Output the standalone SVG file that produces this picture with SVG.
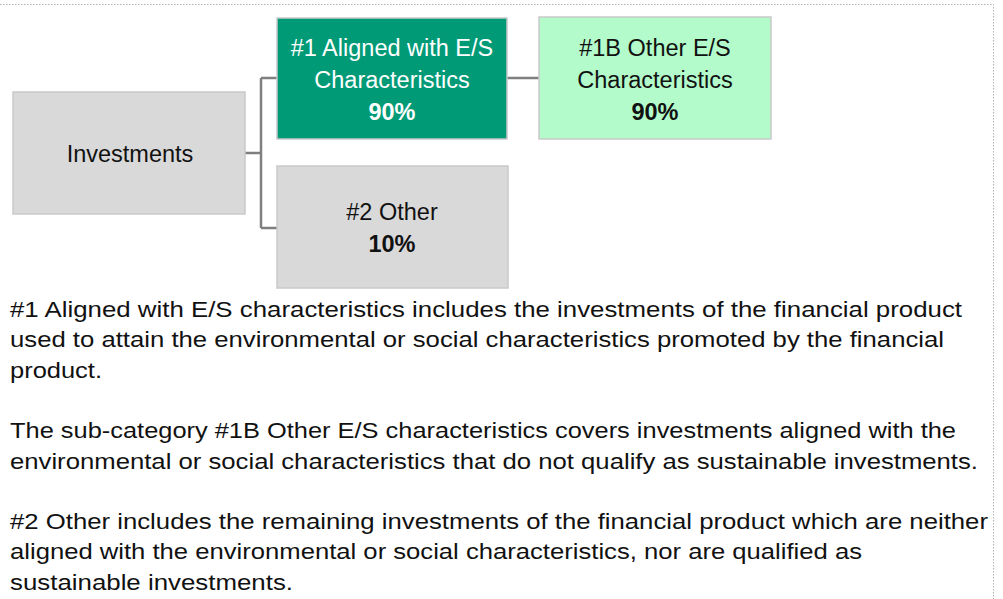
<svg xmlns="http://www.w3.org/2000/svg" width="1003" height="599" viewBox="0 0 1003 599">
<style>
.box{stroke:#c9c9c9;stroke-width:1.5}
.grey{fill:#d9d9d9}
.dark{fill:#009a77}
.light{fill:#b3fbca}
.t{font-family:"Liberation Sans",Arial,sans-serif;font-size:23.5px;text-anchor:middle;fill:#111}
.w{fill:#fff}
.b{font-weight:bold}
.body{font-family:"Liberation Sans",Arial,sans-serif;font-size:22px;fill:#111}
.con{stroke:#7f7f7f;stroke-width:2.5;fill:none}
.frame{stroke:#b0b0b0;stroke-width:1;stroke-dasharray:1.5 1.5;fill:none}
</style>
<path class="frame" d="M0 4.5H993.5V599"/>
<g id="connectors">
<path class="con" d="M245 153H261M261 78V228M261 78H277M261 228H277"/>
<path class="con" d="M507 78H539"/>
</g>
<g id="investments">
<rect class="box grey" x="13" y="92" width="232" height="122"/>
<text class="t" x="130" y="162">Investments</text>
</g>
<g id="aligned">
<rect class="box dark" x="277" y="18" width="230" height="121"/>
<text class="t w" x="392" y="56">#1 Aligned with E/S</text>
<text class="t w" x="392" y="88">Characteristics</text>
<text class="t w b" x="392" y="120">90%</text>
</g>
<g id="other-es">
<rect class="box light" x="539" y="17" width="232" height="122"/>
<text class="t" x="655" y="56">#1B Other E/S</text>
<text class="t" x="655" y="88">Characteristics</text>
<text class="t b" x="655" y="120">90%</text>
</g>
<g id="other">
<rect class="box grey" x="277" y="166" width="231" height="122"/>
<text class="t" x="392" y="220">#2 Other</text>
<text class="t b" x="392" y="252">10%</text>
</g>
<g id="notes" class="body">
<text x="10" y="317" textLength="952" lengthAdjust="spacingAndGlyphs">#1 Aligned with E/S characteristics includes the investments of the financial product</text>
<text x="10" y="347" textLength="934" lengthAdjust="spacingAndGlyphs">used to attain the environmental or social characteristics promoted by the financial</text>
<text x="10" y="378" textLength="92" lengthAdjust="spacingAndGlyphs">product.</text>
<text x="10" y="438" textLength="946" lengthAdjust="spacingAndGlyphs">The sub-category #1B Other E/S characteristics covers investments aligned with the</text>
<text x="10" y="469" textLength="968" lengthAdjust="spacingAndGlyphs">environmental or social characteristics that do not qualify as sustainable investments.</text>
<text x="10" y="529" textLength="978" lengthAdjust="spacingAndGlyphs">#2 Other includes the remaining investments of the financial product which are neither</text>
<text x="10" y="559" textLength="852" lengthAdjust="spacingAndGlyphs">aligned with the environmental or social characteristics, nor are qualified as</text>
<text x="10" y="590" textLength="283" lengthAdjust="spacingAndGlyphs">sustainable investments.</text>
</g>
</svg>
